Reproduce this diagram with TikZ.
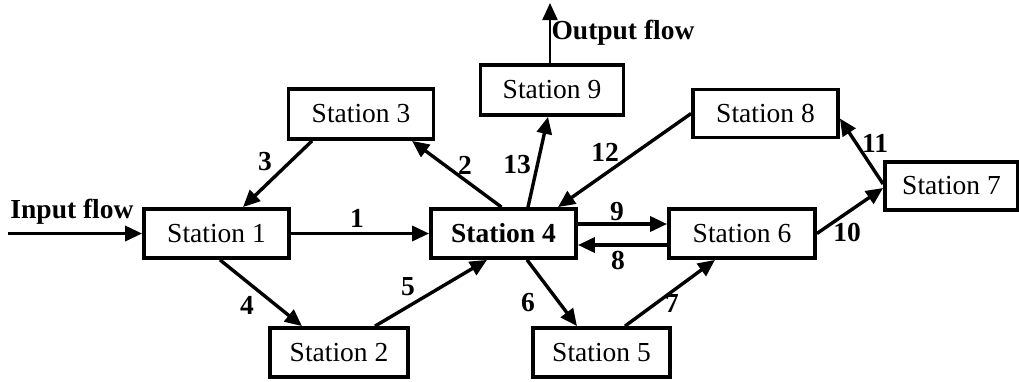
\documentclass[tikz,border=0pt]{standalone}
\usepackage{fontspec}
\setmainfont{Liberation Serif}
\usetikzlibrary{arrows.meta}

\begin{document}
\begin{tikzpicture}[x=1pt, y=-1pt,
  main/.style = {draw, rectangle, line width=3.8pt, inner sep=0pt, minimum width=145pt, minimum height=49pt, font=\fontsize{27.5}{30}\selectfont},
  num/.style = {font=\fontsize{27.5}{30}\selectfont\bfseries},
  flow/.style = {line width=3.4pt, -{Triangle[length=17pt,width=15pt]}}]
\useasboundingbox (0,0) rectangle (1019,381);
\node[main] (s1) at (216.5,233.5) {Station 1};
\node[main, minimum width=138pt] (s2) at (339,352.5) {Station 2};
\node[main, minimum height=50pt] (s3) at (361,114) {Station 3};
\node[main] (s4) at (503.5,233.5) {\textbf{Station 4}};
\node[main, minimum width=137pt] (s5) at (601.5,352.5) {Station 5};
\node[main, minimum width=146pt] (s6) at (742,233.5) {Station 6};
\node[main, minimum width=133pt, minimum height=48pt] (s7) at (951.5,186) {Station 7};
\node[main, minimum height=48pt] (s8) at (765.5,113.5) {Station 8};
\node[main, minimum width=143pt, minimum height=50pt] (s9) at (552,90) {Station 9};
\coordinate (in) at (8,233.5);
\coordinate (out) at (550,3);
\node[num] (inlab) at (72,212) {Input flow};
\node[num] (outlab) at (623,33) {Output flow};
\draw[flow] (in) -- (s1.west);
\draw[flow, line width=2.2pt] ([xshift=-2pt]s9.north) -- (out);
\draw[flow] (s1.east) -- (s4.west);
\draw[flow] ([xshift=-2pt]s4.north) -- ([xshift=51pt]s3.south);
\draw[flow] ([xshift=-49pt]s3.south) -- ([xshift=26.5pt]s1.north);
\draw[flow] ([xshift=3.5pt]s1.south) -- ([xshift=-37pt]s2.north);
\draw[flow] ([xshift=36pt]s2.north) -- ([xshift=-16.5pt]s4.south);
\draw[flow] ([xshift=23.5pt]s4.south) -- ([xshift=-24.5pt]s5.north);
\draw[flow] ([xshift=23.5pt]s5.north) -- ([xshift=-27pt]s6.south);
\draw[flow] ([yshift=-11.5pt]s6.west) -- ([yshift=-11.5pt]s4.east);
\draw[flow] ([yshift=9.5pt]s4.east) -- ([yshift=9.5pt]s6.west);
\draw[flow] (s6.east) -- ([yshift=-2pt]s7.west);
\draw[flow] ([yshift=2pt]s7.west) -- ([yshift=-5pt]s8.east);
\draw[flow] (s8.west) -- ([xshift=54.5pt]s4.north);
\draw[flow] ([xshift=24.5pt]s4.north) -- ([xshift=-4pt]s9.south);
\node[num] (l1) at (357,218) {1};
\node[num] (l2) at (465,165) {2};
\node[num] (l3) at (265,162) {3};
\node[num] (l4) at (247,305) {4};
\node[num] (l5) at (408,287) {5};
\node[num] (l6) at (528,303) {6};
\node[num] (l7) at (672,303) {7};
\node[num] (l8) at (618,260) {8};
\node[num] (l9) at (617,212) {9};
\node[num] (l10) at (847,232) {10};
\node[num] (l11) at (875,143) {11};
\node[num] (l12) at (605,152) {12};
\node[num] (l13) at (517,165) {13};
\end{tikzpicture}
\end{document}
